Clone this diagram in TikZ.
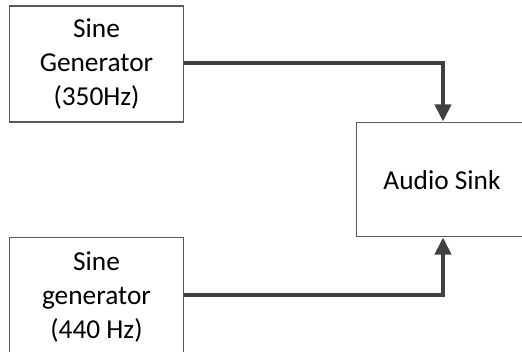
\documentclass[tikz,border=0pt]{standalone}
\usepackage{fontspec}
\setmainfont{Carlito}
\usetikzlibrary{positioning, arrows.meta}

\definecolor{boxline}{HTML}{595959}
\definecolor{wire}{HTML}{404040}

\begin{document}
\begin{tikzpicture}[x=0.75pt, y=-0.75pt, >={Triangle[length=13pt, width=12pt]},
  blockbox/.style={draw=boxline, line width=0.8pt, align=center, font=\fontsize{20.5}{25.5}\selectfont,
    inner sep=0pt, text=black},
  link/.style={draw=wire, line width=3.6pt, ->}]
\clip (0,0) rectangle (522,352);
\node[blockbox, minimum width=130pt, minimum height=87pt] (gensine) at (96.5,64) {Sine\\Generator\\(350Hz)};
\node[blockbox, minimum width=130pt, minimum height=92pt] (genlow) at (96.5,298.5) {};
\node[font=\fontsize{20.5}{25.5}\selectfont, align=center] (genlowlbl) at (96.5,297) {Sine\\generator\\(440 Hz)};
\node[blockbox, minimum width=130pt, minimum height=86pt] (sink) at (443,179.5) {};
\node[font=\fontsize{20.5}{24}\selectfont] (sinklbl) at (442,180) {Audio Sink};
\draw[link] (gensine.east |- 0,63) -| (sink.north);
\draw[link] (genlow.east |- 0,295) -| (sink.south);
\end{tikzpicture}
\end{document}
